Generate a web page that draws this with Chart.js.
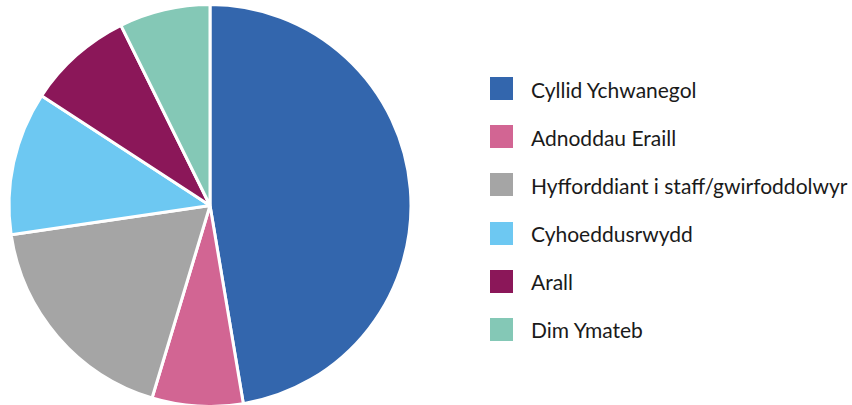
<!DOCTYPE html>
<html>
<head>
<meta charset="utf-8">
<script src="https://cdn.jsdelivr.net/npm/chart.js@4"></script>
<style>
  html, body { margin: 0; padding: 0; background: #ffffff; }
  #wrap { position: relative; width: 852px; height: 405px; overflow: hidden; }
  #pie { position: absolute; left: 0; top: 0; }
  #legend { position: absolute; left: 490px; top: 77px; margin: 0; padding: 0; list-style: none;
    font-family: Lato, "Open Sans", sans-serif; font-size: 21px; color: #1a1a1a; }
  #legend li { position: relative; height: 23px; margin-bottom: 25.2px; white-space: nowrap; }
  #legend .box { position: absolute; left: 0; top: 0; width: 23px; height: 23px; }
  #legend .txt { position: absolute; left: 41px; top: 50%; transform: translateY(-50%); line-height: 1; }
</style>
</head>
<body>
<div id="wrap">
  <canvas id="pie" width="420" height="405"></canvas>
  <ul id="legend"></ul>
</div>
<script>
const categories = ["Cyllid Ychwanegol", "Adnoddau Eraill", "Hyfforddiant i staff/gwirfoddolwyr", "Cyhoeddusrwydd", "Arall", "Dim Ymateb"];
const values = [47.3, 7.3, 18.0, 11.5, 8.5, 7.3];
const colors = ["#3366ad", "#d26593", "#a5a5a5", "#6dc8f2", "#8b1759", "#84c8b6"];

const legend = document.getElementById('legend');
categories.forEach((c, i) => {
  const li = document.createElement('li');
  const box = document.createElement('span');
  box.className = 'box';
  box.style.background = colors[i];
  const t = document.createElement('span');
  t.className = 'txt';
  t.textContent = c;
  li.appendChild(box); li.appendChild(t);
  legend.appendChild(li);
});

new Chart(document.getElementById('pie'), {
  type: 'pie',
  data: {
    labels: categories,
    datasets: [{
      data: values,
      backgroundColor: colors,
      borderColor: '#ffffff',
      borderWidth: 3,
      radius: 201
    }]
  },
  options: {
    responsive: false,
    animation: false,
    layout: { padding: { top: 6, left: 0, right: 0, bottom: 0 } },
    plugins: {
      legend: { display: false },
      tooltip: { enabled: false }
    }
  }
});
</script>
</body>
</html>
